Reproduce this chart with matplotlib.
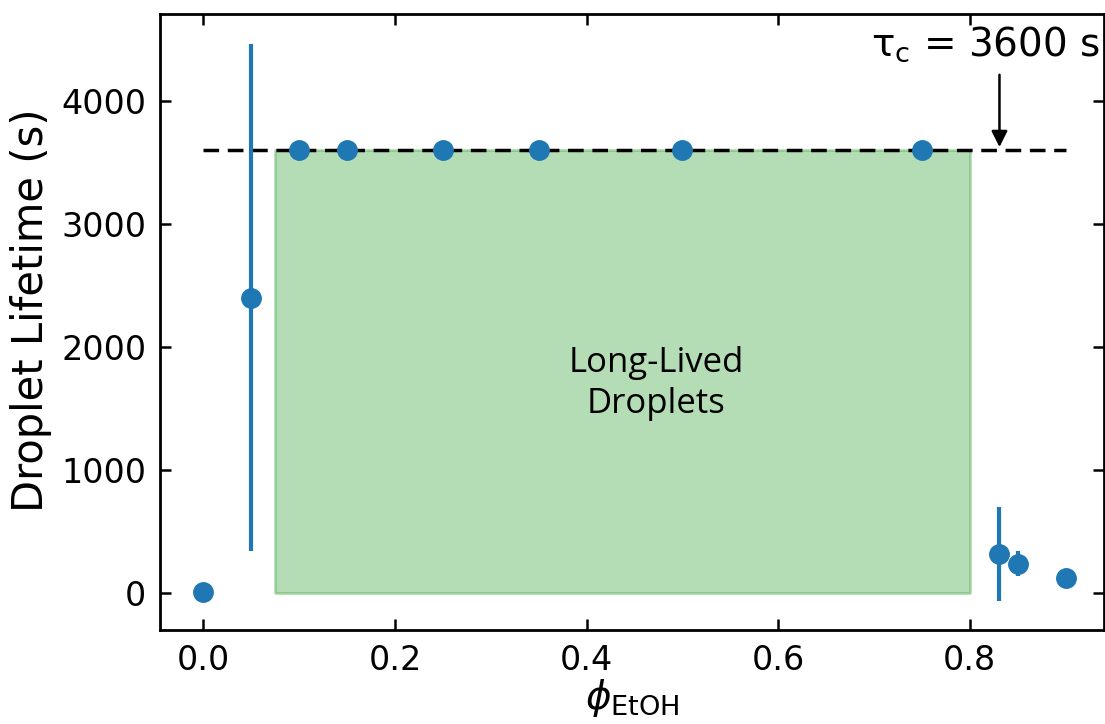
import numpy as np
import matplotlib.pyplot as plt

# ethanol fraction vs droplet lifetime
phi = [0.0, 0.05, 0.10, 0.15, 0.25, 0.35, 0.50, 0.75, 0.83, 0.85, 0.90]
life = [10, 2400, 3600, 3600, 3600, 3600, 3600, 3600, 318, 238, 122]
err = [0, 2060, 0, 0, 0, 0, 0, 0, 383, 100, 0]

tau_c = 3600
region = [0.075, 0.80]

fig = plt.figure(figsize=(11.05, 7.24), dpi=100)
ax = fig.add_axes([0.145, 0.13, 0.854, 0.85])

ax.fill_between(region, [0, 0], [tau_c, tau_c], color='tab:green', alpha=0.35,
                edgecolor='tab:green', linewidth=2)
ax.plot([0.0, 0.9], [tau_c, tau_c], 'k--', lw=2.5, dashes=(4.5, 2.5))
ax.errorbar(phi, life, yerr=err, fmt='o', color='tab:blue', ms=14,
            elinewidth=3, capsize=0, zorder=3)

# label and arrow for the cutoff time
ax.annotate('', xy=(0.831, tau_c), xytext=(0.831, 4210),
            arrowprops=dict(arrowstyle='-|>', color='k', lw=1.8, mutation_scale=24,
                            shrinkA=0, shrinkB=2))
ax.text(0.816, 4300, r'$\mathregular{\tau_c}$ = 3600 s', ha='center', va='bottom', fontsize=28)
ax.text(0.473, 1700, 'Long-Lived\nDroplets', ha='center', va='center',
        fontsize=25, family='Open Sans', linespacing=1.25)

ax.set_xlim(-0.045, 0.94)
ax.set_ylim(-300, 4700)
ax.set_xticks([0.0, 0.2, 0.4, 0.6, 0.8])
ax.set_yticks([0, 1000, 2000, 3000, 4000])
ax.tick_params(direction='in', top=True, right=True, labelsize=24, length=8, width=1.8, pad=10)
for s in ax.spines.values():
    s.set_linewidth(2)
ax.set_xlabel(r'$\phi_{\mathregular{EtOH}}$', fontsize=28, labelpad=0)
ax.set_ylabel('Droplet Lifetime (s)', fontsize=30)
ax.yaxis.set_label_coords(-0.115, 0.52)

fig.savefig('out.png', dpi=100)
